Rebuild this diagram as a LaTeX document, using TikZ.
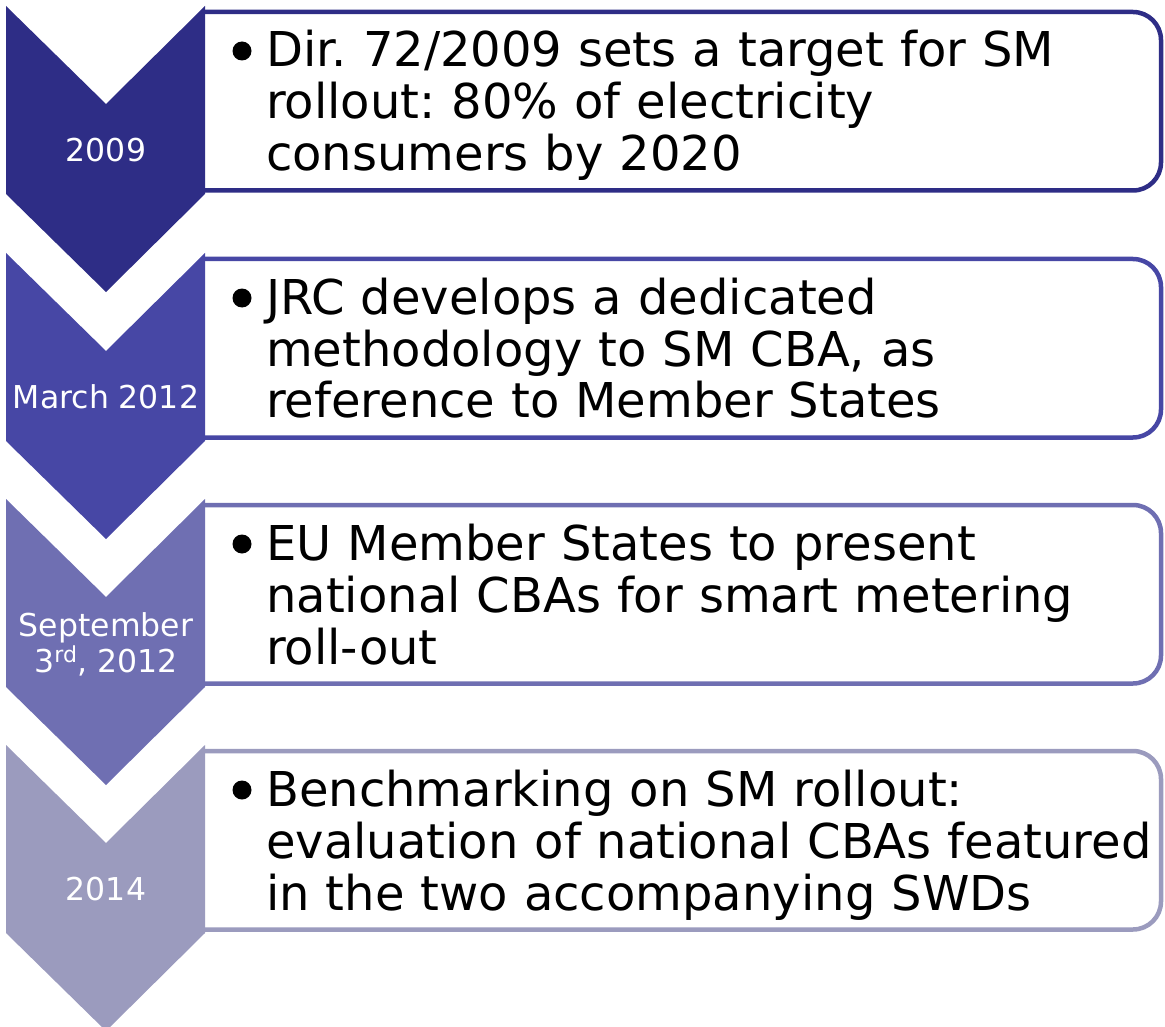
\documentclass[tikz,border=0pt]{standalone}
\usepackage{fontspec}
\setmainfont{DejaVu Sans}
\frenchspacing
\definecolor{cA}{RGB}{46,45,134}
\definecolor{cB}{RGB}{71,71,165}
\definecolor{cC}{RGB}{111,111,178}
\definecolor{cD}{RGB}{155,155,190}
\tikzset{
  chev/.style={fill=#1, draw=none},
  stagebox/.style={draw=#1, line width=4.5pt, rounded corners=28pt, fill=white},
  datelbl/.style={text=white, align=center, inner sep=0pt, anchor=base,
    font=\fontsize{31.5}{36}\selectfont},
  bodytxt/.style={text=black, text width=890pt, align=left, inner sep=0pt,
    anchor=base west, font=\fontsize{48}{52}\selectfont},
  bulletdot/.style={fill=black, draw=none}
}
\begin{document}
\begin{tikzpicture}[x=1pt,y=-1pt]
\useasboundingbox (0,0) rectangle (1165,1027);
\clip (0,0) rectangle (1165,1027);
% stage rows: top y, colour
\foreach \t/\c/\n in {6/cA/1, 253/cB/2, 499/cC/3, 745/cD/4}{
  \draw[stagebox=\c] (205,\t+6) -- (1161,\t+6) -- (1161,\t+184.5) -- (205,\t+184.5);
  \fill[chev=\c] (6,\t) -- (106,\t+98) -- (205,\t) -- (205,\t+188)
     -- (106,\t+286) -- (6,\t+188) -- cycle;
  \fill[bulletdot] (242,\t+45) circle (9.5pt);
}
% date labels
\node[datelbl] (d1) at (106,162) {2009};
\node[datelbl] (d2) at (106,408) {March 2012};
\node[datelbl] (d3) at (106,672) {September\\3\textsuperscript{rd}, 2012};
\node[datelbl] (d4) at (106,900) {2014};
% body texts
\node[bodytxt] (t1) at (266,67) {Dir. 72/2009 sets a target for SM\\rollout: 80\% of electricity\\consumers by 2020};
\node[bodytxt] (t2) at (266,314) {JRC develops a dedicated\\methodology to SM CBA, as\\reference to Member States};
\node[bodytxt] (t3) at (266,560) {EU Member States to present\\national CBAs for smart metering\\roll-out};
\node[bodytxt] (t4) at (266,806) {Benchmarking on SM rollout:\\evaluation of national CBAs featured\\in the two accompanying SWDs};
\end{tikzpicture}
\end{document}
